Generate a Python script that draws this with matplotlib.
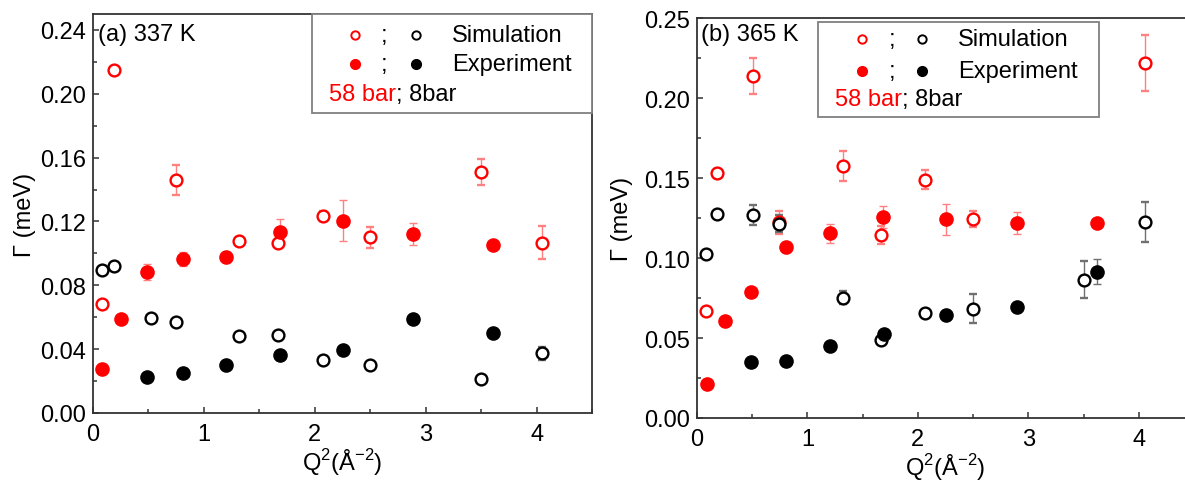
import matplotlib
matplotlib.use("Agg")
import matplotlib.pyplot as plt
from matplotlib.patches import Rectangle
from matplotlib.ticker import MultipleLocator, FormatStrFormatter

plt.rcParams["font.family"] = ["Liberation Sans", "DejaVu Sans"]
plt.rcParams["mathtext.fontset"] = "custom"
plt.rcParams["mathtext.rm"] = "Liberation Sans"
plt.rcParams["font.size"] = 17

# ---- (a) 337 K ----
a_sim58_x = [0.08, 0.19, 0.75, 1.32, 1.67, 2.07, 2.50, 3.50, 4.05]
a_sim58_y = [0.068, 0.215, 0.146, 0.108, 0.1066, 0.1233, 0.110, 0.151, 0.1066]
a_sim58_e = [0.002, 0.002, 0.0097, 0.002, 0.002, 0.003, 0.0067, 0.008, 0.0104]

a_sim8_x = [0.08, 0.19, 0.52, 0.75, 1.32, 1.67, 2.07, 2.50, 3.50, 4.05]
a_sim8_y = [0.0894, 0.092, 0.0594, 0.0573, 0.0482, 0.0488, 0.033, 0.0303, 0.021, 0.0373]
a_sim8_e = [0.001, 0.001, 0.001, 0.001, 0.002, 0.002, 0.001, 0.001, 0.001, 0.004]

a_exp58_x = [0.08, 0.25, 0.49, 0.81, 1.20, 1.69, 2.25, 2.89, 3.61]
a_exp58_y = [0.0278, 0.059, 0.0886, 0.0967, 0.0978, 0.1134, 0.1205, 0.1122, 0.105]
a_exp58_e = [0.001, 0.001, 0.005, 0.0044, 0.003, 0.0083, 0.0129, 0.007, 0.002]

a_exp8_x = [0.49, 0.81, 1.20, 1.69, 2.25, 2.89, 3.61]
a_exp8_y = [0.0225, 0.0253, 0.0299, 0.0366, 0.0392, 0.059, 0.0499]
a_exp8_e = [0.001, 0.001, 0.001, 0.001, 0.001, 0.001, 0.001]

# ---- (b) 365 K ----
b_sim58_x = [0.08, 0.18, 0.51, 0.74, 1.32, 1.67, 2.06, 2.50, 4.06]
b_sim58_y = [0.067, 0.1535, 0.214, 0.1225, 0.1576, 0.1146, 0.149, 0.1244, 0.2222]
b_sim58_e = [0.002, 0.002, 0.0113, 0.0073, 0.0095, 0.0055, 0.006, 0.005, 0.0173]

b_sim8_x = [0.08, 0.18, 0.51, 0.74, 1.32, 1.67, 2.06, 2.50, 3.50, 4.06]
b_sim8_y = [0.1025, 0.1275, 0.127, 0.1217, 0.0754, 0.0486, 0.0654, 0.0684, 0.0865, 0.1226]
b_sim8_e = [0.001, 0.002, 0.006, 0.0052, 0.004, 0.002, 0.002, 0.009, 0.0117, 0.0124]

b_exp58_x = [0.09, 0.25, 0.49, 0.805, 1.20, 1.68, 2.25, 2.90, 3.62]
b_exp58_y = [0.0215, 0.0605, 0.079, 0.1067, 0.1156, 0.126, 0.1244, 0.1222, 0.1222]
b_exp58_e = [0.001, 0.001, 0.002, 0.003, 0.006, 0.0068, 0.0098, 0.007, 0.002]

b_exp8_x = [0.49, 0.805, 1.20, 1.69, 2.25, 2.90, 3.62]
b_exp8_y = [0.0348, 0.0357, 0.0451, 0.0523, 0.0646, 0.0697, 0.0916]
b_exp8_e = [0.001, 0.001, 0.001, 0.002, 0.001, 0.001, 0.0077]

RED = "#ff0000"
RED_ERR = "#ff8080"
BLK_ERR = "#707070"


def draw_series(ax, x, y, e, color, ecolor, filled):
    if filled:
        kw = dict(mfc=color, mec=color, ms=9.5, mew=1.0)
    else:
        kw = dict(mfc="white", mec=color, ms=8.5, mew=1.7)
    ax.errorbar(x, y, yerr=e, fmt="o", ecolor=ecolor, elinewidth=1.0,
                capsize=3, capthick=1.0, **kw)


def style_axes(ax, ymajor, yminor, ylabelpad):
    ax.set_xlim(0, 4.5)
    ax.set_ylim(0, 0.25)
    ax.xaxis.set_major_locator(MultipleLocator(1))
    ax.xaxis.set_minor_locator(MultipleLocator(0.5))
    ax.yaxis.set_major_locator(MultipleLocator(ymajor))
    ax.yaxis.set_minor_locator(MultipleLocator(yminor))
    ax.xaxis.set_major_formatter(FormatStrFormatter("%d"))
    ax.yaxis.set_major_formatter(FormatStrFormatter("%.2f"))
    ax.tick_params(which="both", direction="in", top=False, right=False,
                   color="#333333", width=1.1)
    ax.tick_params(which="major", length=4.5)
    ax.tick_params(which="minor", length=3)
    ax.tick_params(axis="x", pad=7)
    ax.tick_params(axis="y", pad=5)
    for s in ax.spines.values():
        s.set_color("#333333")
        s.set_linewidth(1.3)
    ax.set_xlabel(r"Q$^{\mathregular{2}}$(Å$^{\mathregular{-2}}$)", labelpad=1)
    ax.set_ylabel("Γ (meV)", labelpad=ylabelpad)


def draw_legend(ax, box, rows_y, xs, text_x, row3_x):
    x0, y0, x1, y1 = box
    ax.add_patch(Rectangle((x0, y0), x1 - x0, y1 - y0, transform=ax.transAxes,
                           facecolor="white", edgecolor="#808080", lw=1.3,
                           zorder=5, clip_on=False))
    mx_red, semi, mx_blk = xs
    for ry, filled, label in [(rows_y[0], False, "Simulation"),
                              (rows_y[1], True, "Experiment")]:
        for mx, c in [(mx_red, RED), (mx_blk, "black")]:
            if filled:
                ax.plot([mx], [ry], "o", transform=ax.transAxes, ms=7,
                        mfc=c, mec=c, zorder=6, clip_on=False)
            else:
                ax.plot([mx], [ry], "o", transform=ax.transAxes, ms=6,
                        mfc="white", mec=c, mew=1.4, zorder=6, clip_on=False)
        ax.text(semi, ry, ";", transform=ax.transAxes, ha="center",
                va="center", zorder=6)
        ax.text(text_x, ry, label, transform=ax.transAxes, ha="left",
                va="center", zorder=6)
    t1 = ax.text(row3_x, rows_y[2], "58 bar", color=RED,
                 transform=ax.transAxes, ha="left", va="center", zorder=6)
    ax.annotate("; 8bar", xy=(1, 0), xycoords=t1, ha="left", va="bottom",
                zorder=6)


fig = plt.figure(figsize=(11.85, 4.81), dpi=100)
ax1 = fig.add_axes([0.0785, 0.1393, 0.4211, 0.8295])
ax2 = fig.add_axes([0.5882, 0.1289, 0.4194, 0.8306])

for ax, data in [
    (ax1, [(a_sim58_x, a_sim58_y, a_sim58_e, RED, RED_ERR, False),
           (a_sim8_x, a_sim8_y, a_sim8_e, "black", BLK_ERR, False),
           (a_exp58_x, a_exp58_y, a_exp58_e, RED, RED_ERR, True),
           (a_exp8_x, a_exp8_y, a_exp8_e, "black", BLK_ERR, True)]),
    (ax2, [(b_sim58_x, b_sim58_y, b_sim58_e, RED, RED_ERR, False),
           (b_sim8_x, b_sim8_y, b_sim8_e, "black", BLK_ERR, False),
           (b_exp58_x, b_exp58_y, b_exp58_e, RED, RED_ERR, True),
           (b_exp8_x, b_exp8_y, b_exp8_e, "black", BLK_ERR, True)]),
]:
    for x, y, e, c, ec, f in data:
        draw_series(ax, x, y, e, c, ec, f)

style_axes(ax1, 0.04, 0.02, 3)
style_axes(ax2, 0.05, 0.025, 8)

ax1.text(0.01, 0.95, "(a) 337 K", transform=ax1.transAxes, ha="left", va="center")
ax2.text(0.008, 0.96, "(b) 365 K", transform=ax2.transAxes, ha="left", va="center")

draw_legend(ax1, (0.439, 0.752, 1.0, 1.0), (0.947, 0.875, 0.80),
            (0.525, 0.583, 0.647), 0.719, 0.473)
draw_legend(ax2, (0.2435, 0.7525, 0.809, 0.99), (0.9475, 0.8675, 0.7975),
            (0.332, 0.392, 0.453), 0.525, 0.278)

fig.savefig("out.png", dpi=100)
